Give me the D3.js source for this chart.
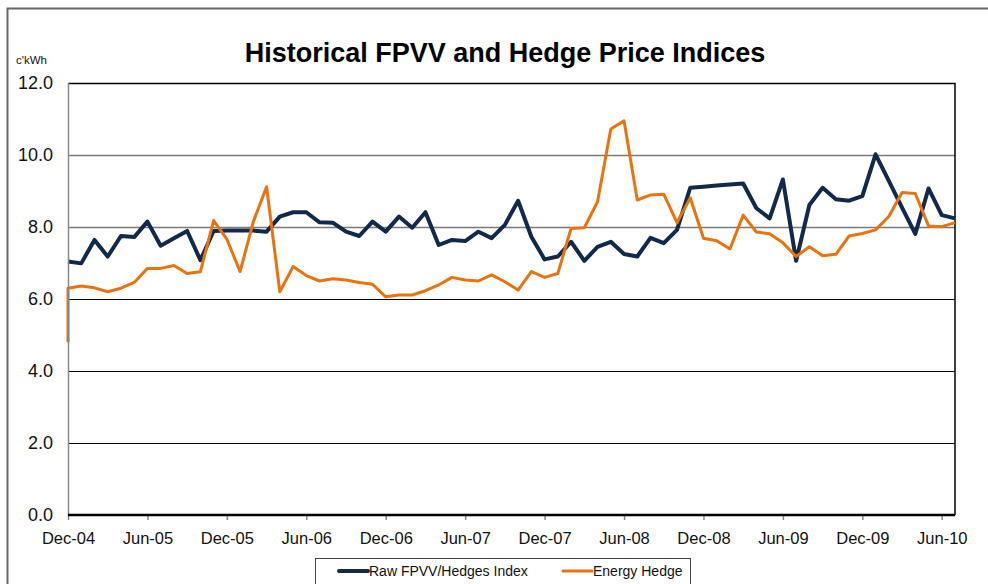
<!DOCTYPE html>
<html>
<head>
<meta charset="utf-8">
<script src="https://cdn.jsdelivr.net/npm/d3@7"></script>
<style>
  body { margin: 0; background: #fff; }
  svg { font-family: "Liberation Sans", Arial, sans-serif; }
</style>
</head>
<body>
<div id="chart"></div>
<script>
// monthly values, Dec-04 (index 0) to Jul-10 (index 67)
var rawIndex = [
  7.04, 6.99, 7.64, 7.18, 7.75, 7.72, 8.15, 7.48, 7.69, 7.89, 7.08, 7.89,
  7.90, 7.90, 7.90, 7.87, 8.29, 8.41, 8.41, 8.13, 8.12, 7.87, 7.75, 8.15,
  7.87, 8.29, 7.98, 8.41, 7.50, 7.64, 7.61, 7.87, 7.69, 8.06, 8.73, 7.73,
  7.10, 7.18, 7.59, 7.06, 7.45, 7.59, 7.25, 7.18, 7.70, 7.55, 7.92, 9.09,
  9.12, 9.15, 9.18, 9.21, 8.52, 8.24, 9.32, 7.06, 8.61, 9.09, 8.77, 8.73,
  8.86, 10.02, 9.28, 8.54, 7.81, 9.07, 8.33, 8.24
];
var energyHedge = [
  6.30, 6.36, 6.31, 6.20, 6.30, 6.46, 6.85, 6.85, 6.93, 6.71, 6.76, 8.18,
  7.66, 6.76, 8.15, 9.12, 6.20, 6.90, 6.65, 6.50, 6.56, 6.53, 6.46, 6.41,
  6.06, 6.11, 6.11, 6.23, 6.39, 6.60, 6.53, 6.50, 6.67, 6.48, 6.25, 6.76,
  6.60, 6.71, 7.96, 7.98, 8.70, 10.72, 10.95, 8.75, 8.89, 8.91, 8.12, 8.81,
  7.69, 7.62, 7.39, 8.33, 7.86, 7.81, 7.56, 7.18, 7.45, 7.20, 7.24, 7.75,
  7.82, 7.92, 8.29, 8.96, 8.93, 8.03, 8.01, 8.12
];
// extra low entry in the first month of the hedge series
var energyHedgeStart = 4.8;
var tickMonths = [0, 6, 12, 18, 24, 30, 36, 42, 48, 54, 60, 66];
var tickLabels = ["Dec-04", "Jun-05", "Dec-05", "Jun-06", "Dec-06", "Jun-07",
  "Dec-07", "Jun-08", "Dec-08", "Jun-09", "Dec-09", "Jun-10"];
var yTicks = [0, 2, 4, 6, 8, 10, 12];

var svgWidth = 988, svgHeight = 584;
var margin = { top: 83, right: 33, bottom: 69, left: 68 };
var width = svgWidth - margin.left - margin.right;
var height = svgHeight - margin.top - margin.bottom;

var svg = d3.select("#chart").append("svg")
  .attr("width", svgWidth)
  .attr("height", svgHeight);

// outer chart frame (cut off at right and bottom)
svg.append("path")
  .attr("d", "M7.5,600 L7.5,8.5 L1000,8.5")
  .attr("fill", "none")
  .attr("stroke", "#666")
  .attr("stroke-width", 2);

var chartGroup = svg.append("g")
  .attr("transform", `translate(${margin.left}, ${margin.top})`);

var x = d3.scaleLinear().domain([0, 67]).range([0, width]);
var y = d3.scaleLinear().domain([0, 12]).range([height, 0]);

// gridlines
chartGroup.selectAll(".grid")
  .data(yTicks.filter(d => d > 0 && d < 12))
  .enter()
  .append("line")
  .attr("x1", 0).attr("x2", width)
  .attr("y1", d => Math.round(y(d)) + 0.5)
  .attr("y2", d => Math.round(y(d)) + 0.5)
  .attr("stroke", d => d >= 8 ? "#7a7a7a" : "#000")
  .attr("stroke-width", d => d >= 8 ? 1.6 : 1);

// plot area border
chartGroup.append("path")
  .attr("d", `M0,0.5 L${width},0.5 L${width},${height}`)
  .attr("fill", "none")
  .attr("stroke", "#000")
  .attr("stroke-width", 1.5);

// y labels
chartGroup.selectAll(".ylab")
  .data(yTicks)
  .enter()
  .append("text")
  .attr("x", -15)
  .attr("y", d => y(d))
  .attr("dy", "0.35em")
  .attr("text-anchor", "end")
  .style("font-size", "18px")
  .attr("fill", "#111")
  .text(d => d3.format(".1f")(d));

// x axis
var bottomAxis = d3.axisBottom(x)
  .tickValues(tickMonths)
  .tickFormat((d, i) => tickLabels[i])
  .tickSizeInner(5)
  .tickSizeOuter(0)
  .tickPadding(12);

var xAxis = chartGroup.append("g")
  .attr("transform", `translate(0, ${height})`)
  .call(bottomAxis);
xAxis.select(".domain").remove();
xAxis.selectAll(".tick line").attr("stroke", "#888").attr("stroke-width", 1.5);
xAxis.selectAll(".tick text")
  .style("font-size", "16.5px")
  .style("font-family", "'Liberation Sans', Arial, sans-serif")
  .attr("fill", "#111");

// lines
var line = d3.line()
  .x(d => x(d.m))
  .y(d => y(d.v));

var rawPoints = rawIndex.map((v, i) => ({ m: i, v: v }));
var hedgePoints = [{ m: 0, v: energyHedgeStart }]
  .concat(energyHedge.map((v, i) => ({ m: i, v: v })));

chartGroup.append("path")
  .datum(rawPoints)
  .attr("fill", "none")
  .attr("stroke", "#12294a")
  .attr("stroke-width", 4)
  .attr("stroke-linejoin", "round")
  .attr("d", line);

chartGroup.append("path")
  .datum(hedgePoints)
  .attr("fill", "none")
  .attr("stroke", "#e8730f")
  .attr("stroke-width", 3)
  .attr("stroke-linejoin", "round")
  .attr("d", line);

// axis lines on top
chartGroup.append("line")
  .attr("x1", 0.5).attr("x2", 0.5)
  .attr("y1", 0).attr("y2", height)
  .attr("stroke", "#888")
  .attr("stroke-width", 1.5);

chartGroup.append("line")
  .attr("x1", 0).attr("x2", width)
  .attr("y1", height).attr("y2", height)
  .attr("stroke", "#000")
  .attr("stroke-width", 2.5);

// title and unit
svg.append("text")
  .attr("x", 505)
  .attr("y", 62)
  .attr("text-anchor", "middle")
  .style("font-size", "27px")
  .style("font-weight", "bold")
  .attr("fill", "#000")
  .text("Historical FPVV and Hedge Price Indices");

svg.append("text")
  .attr("x", 16)
  .attr("y", 64)
  .style("font-size", "11.5px")
  .attr("fill", "#111")
  .text("c'kWh");

// legend
var legend = svg.append("g");
legend.append("rect")
  .attr("x", 315.5).attr("y", 558.5)
  .attr("width", 375).attr("height", 40)
  .attr("fill", "#fff")
  .attr("stroke", "#444")
  .attr("stroke-width", 1);

var legendItems = [
  { label: "Raw FPVV/Hedges Index", color: "#12294a", w: 4, x: 339 },
  { label: "Energy Hedge", color: "#e8730f", w: 3, x: 563 }
];
legendItems.forEach(function(item) {
  legend.append("line")
    .attr("x1", item.x).attr("x2", item.x + 29)
    .attr("y1", 571).attr("y2", 571)
    .attr("stroke", item.color)
    .attr("stroke-width", item.w)
    .attr("stroke-linecap", "round");
  legend.append("text")
    .attr("x", item.x + 30)
    .attr("y", 576)
    .style("font-size", "14px")
    .attr("fill", "#111")
    .text(item.label);
});
</script>
</body>
</html>
